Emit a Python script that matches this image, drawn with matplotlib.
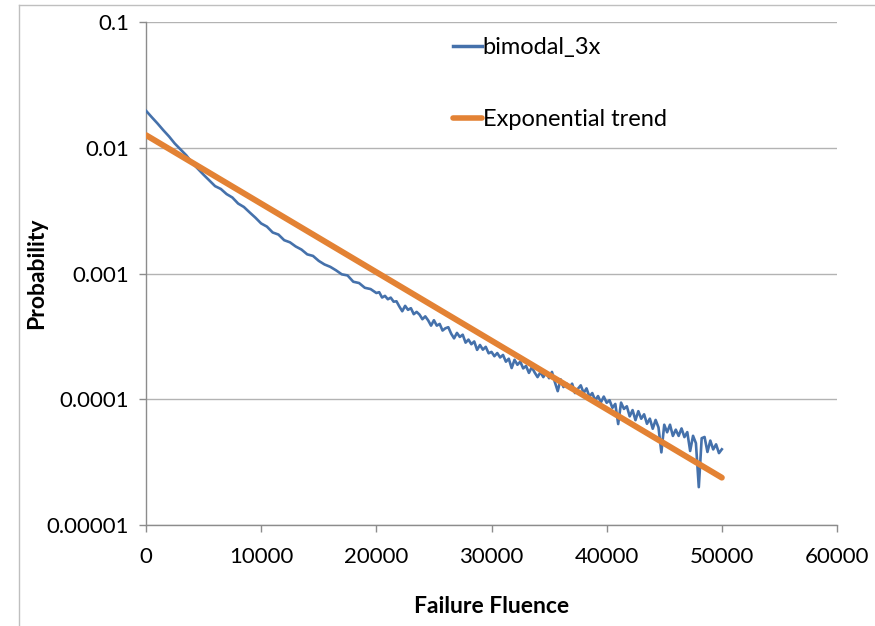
import matplotlib
matplotlib.use("Agg")
import matplotlib.pyplot as plt
from matplotlib.lines import Line2D

# failure fluence (x) and probability for the bimodal_3x curve
fluence_a = [0, 500, 1000, 1500, 2000, 2500, 3000, 3500, 4000, 4500,
             5000, 5500, 6000, 6500, 7000, 7500, 8000, 8500, 9000, 9500,
             10000, 10500, 11000, 11500, 12000, 12500, 13000, 13500, 14000, 14500,
             15000, 15500, 16000, 16500, 17000, 17500, 18000, 18500, 19000, 19500]
prob_a = [0.0197, 0.0175, 0.0156, 0.0138, 0.0123, 0.0108, 0.0097, 0.0087, 0.0076, 0.0068,
          0.0061, 0.0055, 0.00495, 0.00470, 0.00428, 0.00402, 0.00360, 0.00338, 0.00306, 0.00278,
          0.00250, 0.00236, 0.00212, 0.00204, 0.00184, 0.00177, 0.00164, 0.00155, 0.00142, 0.00138,
          0.00126, 0.00118, 0.00113, 0.00106, 0.000985, 0.000965, 0.000860, 0.000840, 0.000770, 0.000752]

fluence_b = [20000 + 250 * i for i in range(121)]
prob_b = [7.00e-4, 7.10e-4, 6.44e-4, 6.64e-4, 6.24e-4, 6.43e-4, 5.97e-4, 6.01e-4, 5.46e-4, 5.01e-4,
          5.53e-4, 5.14e-4, 5.30e-4, 4.75e-4, 4.95e-4, 4.71e-4, 4.33e-4, 4.56e-4, 4.24e-4, 3.85e-4,
          4.25e-4, 3.85e-4, 3.97e-4, 3.52e-4, 3.67e-4, 3.74e-4, 3.32e-4, 3.05e-4, 3.37e-4, 3.13e-4,
          3.26e-4, 2.82e-4, 2.98e-4, 2.74e-4, 2.88e-4, 2.47e-4, 2.70e-4, 2.48e-4, 2.61e-4, 2.32e-4,
          2.38e-4, 2.20e-4, 2.33e-4, 2.15e-4, 2.25e-4, 1.99e-4, 2.10e-4, 1.77e-4, 2.06e-4, 1.88e-4,
          1.99e-4, 1.76e-4, 1.84e-4, 1.62e-4, 1.80e-4, 1.63e-4, 1.50e-4, 1.64e-4, 1.50e-4, 1.65e-4,
          1.47e-4, 1.65e-4, 1.37e-4, 1.16e-4, 1.44e-4, 1.25e-4, 1.34e-4, 1.23e-4, 1.33e-4, 1.12e-4,
          1.21e-4, 1.29e-4, 1.12e-4, 1.22e-4, 1.05e-4, 1.12e-4, 9.79e-5, 1.06e-4, 9.46e-5, 1.05e-4,
          9.38e-5, 9.82e-5, 8.55e-5, 9.18e-5, 6.35e-5, 9.40e-5, 8.38e-5, 8.79e-5, 7.31e-5, 8.20e-5,
          6.82e-5, 8.04e-5, 7.00e-5, 7.59e-5, 6.38e-5, 7.01e-5, 5.83e-5, 6.85e-5, 5.97e-5, 3.78e-5,
          6.27e-5, 5.46e-5, 6.27e-5, 5.11e-5, 5.73e-5, 5.11e-5, 5.86e-5, 5.00e-5, 5.48e-5, 3.88e-5,
          5.12e-5, 4.47e-5, 2.00e-5, 4.90e-5, 5.01e-5, 3.81e-5, 4.69e-5, 3.99e-5, 4.38e-5, 3.73e-5,
          4.00e-5]

fluence = fluence_a + fluence_b
prob = prob_a + prob_b

# exponential trend end points (straight line on log axis)
trend_x = [0, 50000]
trend_y = [0.0126, 2.38e-5]

x_ticks = [0, 10000, 20000, 30000, 40000, 50000, 60000]
y_ticks = [0.00001, 0.0001, 0.001, 0.01, 0.1]
y_labels = ["0.00001", "0.0001", "0.001", "0.01", "0.1"]

plt.rcParams['font.family'] = ['Lato', 'DejaVu Sans']

px = 1 / 100
fig = plt.figure(figsize=(875 * px, 626 * px), dpi=100)
ax = fig.add_axes([146 / 875, 1 - 525 / 626, (837 - 146) / 875, (525 - 22) / 626])

ax.plot(fluence, prob, color='#4571AB', lw=1.9, label='bimodal_3x', zorder=3)
ax.plot(trend_x, trend_y, color='#E38234', lw=4.3, solid_capstyle='round',
        label='Exponential trend', zorder=4)

ax.set_yscale('log')
ax.set_xlim(0, 60000)
ax.set_ylim(1e-5, 0.1)
ax.set_xticks(x_ticks)
ax.set_xticklabels([str(t) for t in x_ticks])
ax.set_yticks(y_ticks)
ax.set_yticklabels(y_labels)
ax.minorticks_off()
ax.tick_params(axis='both', labelsize=16, color='#8C8C8C', length=5, width=1,
               direction='out', labelcolor='black')
ax.tick_params(axis='x', pad=11)
ax.tick_params(axis='y', pad=7)

ax.grid(axis='y', color='#B3B3B3', lw=1)
ax.set_axisbelow(True)
for s in ['top', 'right']:
    ax.spines[s].set_visible(False)
for s in ['left', 'bottom']:
    ax.spines[s].set_color('#8C8C8C')
    ax.spines[s].set_linewidth(1)

ax.set_xlabel('Failure Fluence', fontsize=16.5, fontweight='bold', labelpad=21)
ax.set_ylabel('Probability', fontsize=16.5, fontweight='bold')
ax.yaxis.set_label_coords(-0.1435, 0.5)

leg = ax.legend(loc='upper left', bbox_to_anchor=(0.414, 1.012), frameon=False,
                fontsize=17, handlelength=1.2, handletextpad=0.05, labelspacing=2.17)
for h in leg.get_lines():
    h.set_linewidth(2.5)
leg.get_lines()[1].set_linewidth(4)

# outer chart border (only left and top edges fall inside the picture)
fig.add_artist(Line2D([19 / 875, 19 / 875], [0, 1 - 5 / 626], color='#BFBFBF', lw=1))
fig.add_artist(Line2D([19 / 875, 1], [1 - 5 / 626, 1 - 5 / 626], color='#BFBFBF', lw=1))

fig.savefig('out.png', dpi=100)
